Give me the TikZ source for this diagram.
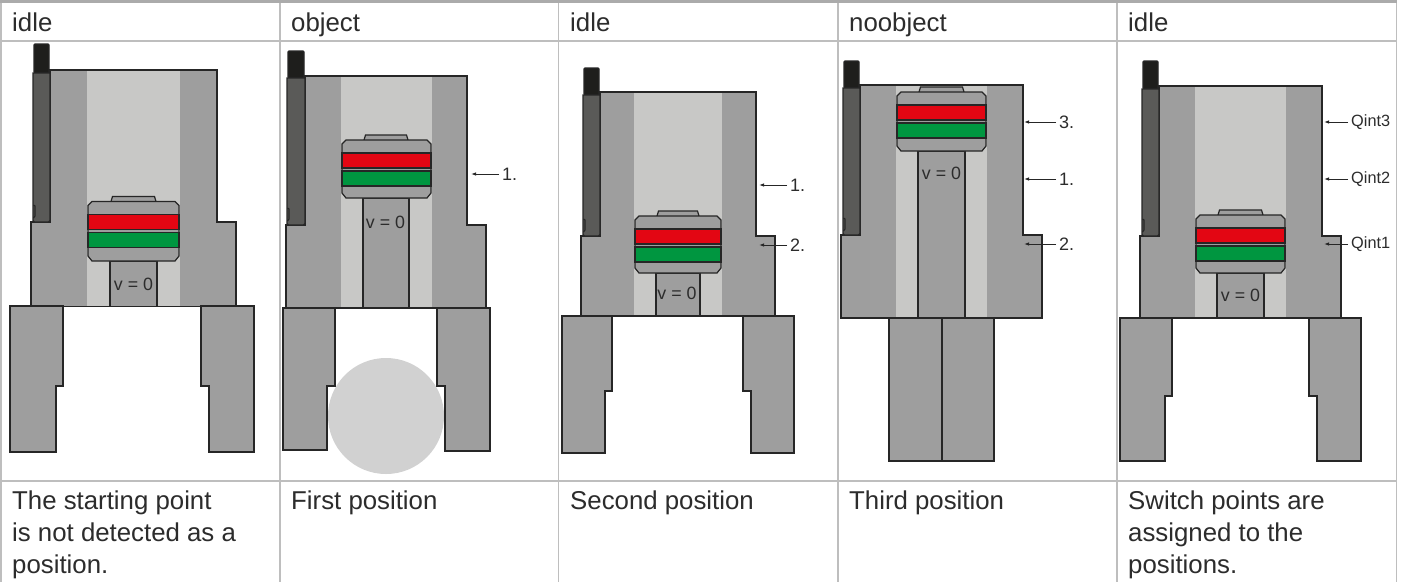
\documentclass[tikz,border=0pt]{standalone}
\usepackage{fontspec}
\setmainfont{Liberation Sans}
\usetikzlibrary{arrows.meta}
\definecolor{txt}{HTML}{2C2C2C}
\definecolor{grid}{HTML}{BEBEBE}
\definecolor{band}{HTML}{ABABAB}
\definecolor{metal}{HTML}{9E9E9E}
\definecolor{bore}{HTML}{C8C8C6}
\definecolor{senscol}{HTML}{5A5A58}
\definecolor{capcol}{HTML}{1E1E1C}
\definecolor{redc}{HTML}{E30613}
\definecolor{greenc}{HTML}{009640}
\definecolor{objc}{HTML}{D1D1D1}
\definecolor{ink}{HTML}{262626}
\tikzset{
  x=1pt,y=-1pt,
  gridline/.style={draw=grid,line width=1.5pt},
  outline/.style={draw=ink,line width=1.2pt,line join=miter},
  metalpart/.style={outline,fill=metal},
  celltext/.style={anchor=north west,align=left,inner sep=0pt,text=txt,font=\fontsize{25.8}{32}\selectfont},
  speed/.style={anchor=center,inner sep=0pt,text=txt,font=\fontsize{17.8}{20}\selectfont},
  poslabel/.style={anchor=west,inner sep=3pt,text=txt,font=\fontsize{18}{20}\selectfont},
  qlabel/.style={anchor=west,inner sep=3pt,text=txt,font=\fontsize{16.3}{20}\selectfont},
  pointer/.style={draw=ink,line width=0.9pt,-{Latex[length=5pt,width=3.5pt]}},
}
% lowerL sL upperR lowerR top step bot boreL boreR
\newcommand\grbody[9]{%
  \fill[metal] (#1,#6)--(#2,#6)--(#2,#5)--(#3,#5)--(#3,#6)--(#4,#6)--(#4,#7)--(#1,#7)--cycle;
  \fill[bore] (#8,#5) rectangle (#9,#7);
  \draw[outline] (#1,#6)--(#2,#6)--(#2,#5)--(#3,#5)--(#3,#6)--(#4,#6)--(#4,#7)--(#1,#7)--cycle;
}
% sL sR capTop sTop bottom
\newcommand\sensorbar[5]{%
  \draw[outline,fill=capcol,rounded corners=1pt] (#1+1,#4)--(#1+1,#3)--(#2-1,#3)--(#2-1,#4)--cycle;
  \draw[outline,fill=senscol] (#1,#4)--(#2,#4)--(#2,#5-1.5) to[out=90,in=0] (#2-1.5,#5)--(#1+1.5,#5) to[out=180,in=-90] (#1,#5-1.5)--cycle;
  \draw[outline] (#1+.5,#5-17) -- (#1+2,#5-16) -- (#1+2,#5-6) -- (#1+.5,#5-4);
}
% hL hR hTop hBot rodL rodR rodBot
\newcommand\pistonpart[7]{%
  \draw[metalpart] (#5,#7) rectangle (#6,#4);
  \draw[metalpart] (#5+1,#3) -- (#5+2.5,#3-5) -- (#6-2.5,#3-5) -- (#6-1,#3);
  \draw[metalpart] (#1,#3+4)--(#1+4,#3)--(#2-4,#3)--(#2,#3+4)--(#2,#4-5)--(#2-4,#4)--(#1+4,#4)--(#1,#4-5)--cycle;
  \draw[outline,fill=redc] (#1,#3+13) rectangle (#2,#3+28);
  \draw[outline,fill=greenc] (#1,#3+31) rectangle (#2,#3+46);
}
% outer inner lowerInner top step bot
\newcommand\fingerpart[6]{%
  \draw[metalpart] (#1,#4)--(#2,#4)--(#2,#5)--(#3,#5)--(#3,#6)--(#1,#6)--cycle;
}
\begin{document}
\begin{tikzpicture}
\useasboundingbox (0,0) rectangle (1405,582);
\fill[white] (0,0) rectangle (1405,582);
% table
\fill[band] (0,0) rectangle (1397,3);
\draw[gridline] (0,41)--(1397,41);
\draw[gridline] (0,481)--(1397,481);
\foreach \gx in {1,280,558.5,838,1117,1396.5}{\draw[gridline] (\gx,3)--(\gx,582);}
% headers
\node[celltext] (h1) at (12,12.5) {idle};
\node[celltext] (h2) at (291,12.5) {object};
\node[celltext] (h3) at (570,12.5) {idle};
\node[celltext] (h4) at (849,12.5) {noobject};
\node[celltext] (h5) at (1128,12.5) {idle};
% captions
\node[celltext] (c1) at (12,490.3) {The starting point\\is not detected as a\\position.};
\node[celltext] (c2) at (291,490.3) {First position};
\node[celltext] (c3) at (570,490.3) {Second position};
\node[celltext] (c4) at (849,490.3) {Third position};
\node[celltext] (c5) at (1128,490.3) {Switch points are\\assigned to the\\positions.};
% panel 1
\grbody{31}{50}{217}{236}{70}{222}{306.5}{87}{180}
\sensorbar{33}{50}{44}{73}{222}
\pistonpart{88}{179}{201.5}{261}{110}{157}{306.5}
\fingerpart{10}{63}{56}{306}{386}{452}
\fingerpart{254}{201}{209}{306}{386}{452}
\node[speed] (v1) at (133.5,284) {v = 0};
% panel 2
\fill[objc] (386,416) circle (58);
\grbody{286}{305}{467}{486}{76}{225}{308}{341}{432}
\sensorbar{287}{305}{51}{78}{225}
\pistonpart{342}{431}{140}{198}{363}{409}{308}
\fingerpart{283}{335}{327}{308}{386}{450}
\fingerpart{490}{437}{445}{308}{386}{451}
\node[speed] (v2) at (385.5,222) {v = 0};
\node[poslabel] (p21) at (499,174) {1.};
\coordinate (t21) at (471,174);
\draw[pointer] (p21.west)--(t21);
% panel 3
\grbody{581}{600}{756}{775}{92}{236}{316}{634}{722}
\sensorbar{583}{600}{68}{95}{236}
\pistonpart{635}{721}{216}{273}{656}{700}{316}
\fingerpart{562}{612}{605}{316}{391}{453}
\fingerpart{794}{743}{751}{316}{391}{453}
\node[speed] (v3) at (677,293) {v = 0};
\node[poslabel] (p31) at (787,185) {1.};
\coordinate (t31) at (759,185);
\draw[pointer] (p31.west)--(t31);
\node[poslabel] (p32) at (787,245) {2.};
\coordinate (t32) at (759,245);
\draw[pointer] (p32.west)--(t32);
% panel 4
\grbody{841}{860}{1023}{1042}{85}{235}{318}{896}{987}
\sensorbar{843}{860}{61}{88}{235}
\pistonpart{897}{986}{92}{151}{918}{965}{318}
\fingerpart{889}{942}{942}{318}{396}{461}
\fingerpart{994}{942}{942}{318}{396}{461}
\node[speed] (v4) at (941.5,173) {v = 0};
\node[poslabel] (p43) at (1056,122) {3.};
\coordinate (t43) at (1024,122);
\draw[pointer] (p43.west)--(t43);
\node[poslabel] (p41) at (1056,179) {1.};
\coordinate (t41) at (1024,179);
\draw[pointer] (p41.west)--(t41);
\node[poslabel] (p42) at (1056,244) {2.};
\coordinate (t42) at (1024,244);
\draw[pointer] (p42.west)--(t42);
% panel 5
\grbody{1140}{1159}{1322}{1341}{86}{236}{318}{1195}{1286}
\sensorbar{1142}{1159}{61}{89}{236}
\pistonpart{1196}{1285}{215}{273}{1217}{1264}{318}
\fingerpart{1120}{1172}{1165}{318}{396}{461}
\fingerpart{1361}{1309}{1317}{318}{396}{461}
\node[speed] (v5) at (1240.5,295) {v = 0};
\node[qlabel] (q3) at (1348,122) {Qint3};
\coordinate (r3) at (1324,122);
\draw[pointer] (q3.west)--(r3);
\node[qlabel] (q2) at (1348,179) {Qint2};
\coordinate (r2) at (1324,179);
\draw[pointer] (q2.west)--(r2);
\node[qlabel] (q1) at (1348,244) {Qint1};
\coordinate (r1) at (1324,244);
\draw[pointer] (q1.west)--(r1);
\end{tikzpicture}
\end{document}
